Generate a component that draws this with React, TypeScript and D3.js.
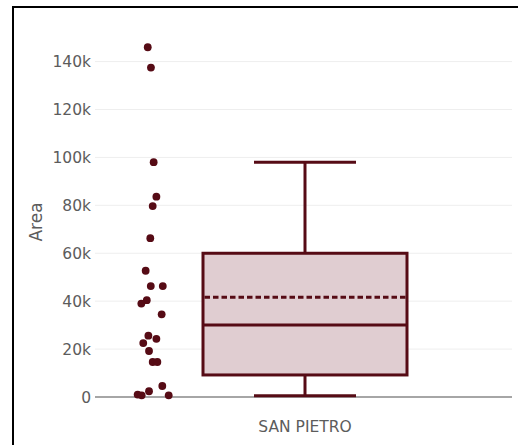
import React from "react";
import * as d3 from "d3";

const categories = ["SAN PIETRO"];
const pointValues = [146000, 137500, 98000, 83600, 79700, 66300, 52700, 46300, 46300, 40400, 39000, 34500, 25600, 24300, 22500, 19200, 14600, 14600, 4600, 2400, 1000, 700, 700];
const pointJitter = [-0.33, -0.13, 0.04, 0.21, -0.02, -0.17, -0.46, -0.14, 0.61, -0.39, -0.73, 0.54, -0.29, 0.21, -0.61, -0.25, -0.02, 0.27, 0.58, -0.25, -0.96, -0.71, 0.98];
// box statistics: [lower fence, q1, median, q3, upper fence, mean]
const boxStats = [500, 9200, 30100, 60000, 98000, 41600];
const yTicks = [0, 20000, 40000, 60000, 80000, 100000, 120000, 140000];
const yTitle = "Area";

const W = 518, H = 445;
const dark = "#560b15";
const fill = "#e0cdd1";
const font = "DejaVu Sans, Verdana, sans-serif";
const textColor = "#5c5c5c";

export default function App() {
  const x = d3.scaleBand<string>().domain(categories).range([95, 515]).padding(0.26);
  const y = d3.scaleLinear().domain([0, 140000]).range([397, 61.6]);
  const fmt = (v: number) => (v === 0 ? "0" : d3.format("~s")(v));
  const cat = categories[0];
  const cx = (x(cat) ?? 0) + x.bandwidth() / 2;
  const bw = 204;
  const pointPos = -1.49;
  const jitterW = 16;
  const [lo, q1, med, q3, hi, mean] = boxStats;
  return (
    <div style={{ position: "fixed", left: 0, top: 0 }}>
      <svg width={W} height={H} style={{ display: "block" }}>
        <rect x={0} y={0} width={W} height={H} fill="#fff" />
        <line x1={13} x2={13} y1={6} y2={H} stroke="#000" strokeWidth={2} />
        <line x1={12} x2={W} y1={7} y2={7} stroke="#000" strokeWidth={2} />
        {yTicks.map((t) => (
          <g key={t}>
            <line x1={95} x2={512} y1={y(t)} y2={y(t)} stroke={t === 0 ? "#888" : "#eee"} strokeWidth={t === 0 ? 1.5 : 1} />
            <text x={91} y={y(t)} dy="0.36em" textAnchor="end" fontFamily={font} fontSize={15.5} fill={textColor}>{fmt(t)}</text>
          </g>
        ))}
        <text transform={`translate(36,222) rotate(-90)`} textAnchor="middle" dy="0.36em" fontFamily={font} fontSize={17} fill={textColor}>{yTitle}</text>
        <text x={cx} y={432} textAnchor="middle" fontFamily={font} fontSize={15.5} fill={textColor}>{cat}</text>
        {/* whiskers */}
        <line x1={cx} x2={cx} y1={y(hi)} y2={y(q3)} stroke={dark} strokeWidth={3} />
        <line x1={cx} x2={cx} y1={y(q1)} y2={y(lo)} stroke={dark} strokeWidth={3} />
        <line x1={cx - bw / 4} x2={cx + bw / 4} y1={y(hi)} y2={y(hi)} stroke={dark} strokeWidth={3} />
        <line x1={cx - bw / 4} x2={cx + bw / 4} y1={y(lo)} y2={y(lo)} stroke={dark} strokeWidth={3} />
        <rect x={cx - bw / 2} y={y(q3)} width={bw} height={y(q1) - y(q3)} fill={fill} stroke={dark} strokeWidth={3} />
        <line x1={cx - bw / 2} x2={cx + bw / 2} y1={y(med)} y2={y(med)} stroke={dark} strokeWidth={3} />
        <line x1={cx - bw / 2 + 1.5} x2={cx + bw / 2 - 1.5} y1={y(mean)} y2={y(mean)} stroke={dark} strokeWidth={3} strokeDasharray="5.5,3" />
        {pointValues.map((v, i) => (
          <circle key={i} cx={cx + pointPos * (bw / 2) + pointJitter[i] * jitterW} cy={y(v)} r={3.9} fill={dark} />
        ))}
      </svg>
    </div>
  );
}
